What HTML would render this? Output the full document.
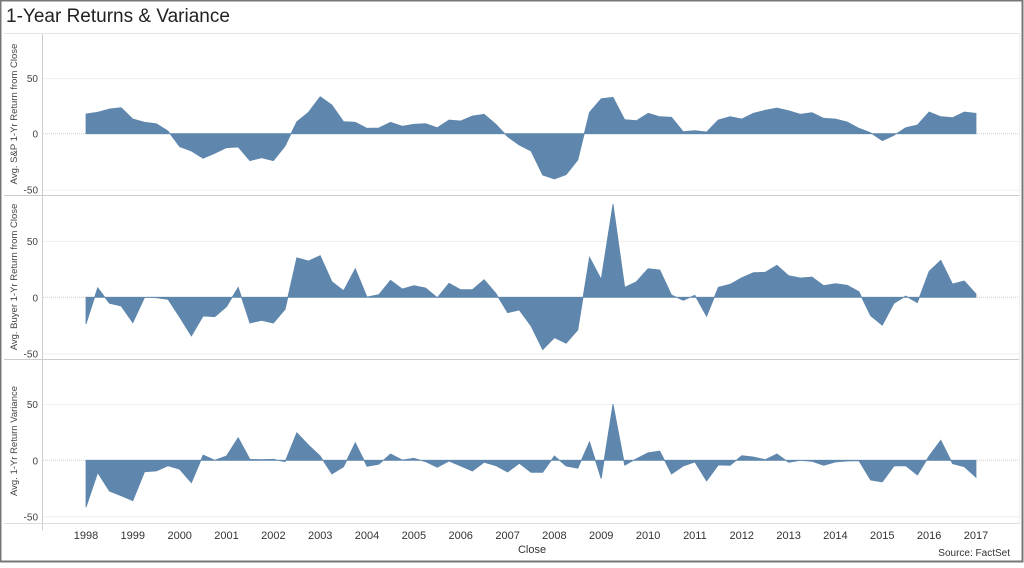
<!DOCTYPE html>
<html><head><meta charset="utf-8"><style>
html,body{margin:0;padding:0;background:#fff;}
body{width:1024px;height:563px;overflow:hidden;font-family:"Liberation Sans",Arial,sans-serif;}
</style></head><body>
<svg id="s" width="1024" height="563" xmlns="http://www.w3.org/2000/svg" font-family="Liberation Sans, Arial, sans-serif">
<rect x="0.5" y="0.5" width="1022" height="561" fill="#fff" stroke="#777" stroke-width="2"/>
<text x="6" y="22" font-size="19" fill="#222">1-Year Returns &amp; Variance</text>
<line x1="4" y1="33.5" x2="1020" y2="33.5" stroke="#e4e4e4"/>
<line x1="42.5" y1="34" x2="42.5" y2="530" stroke="#ccc"/>
<line x1="4" y1="195.5" x2="1020" y2="195.5" stroke="#ccc"/>
<line x1="4" y1="359.5" x2="1020" y2="359.5" stroke="#ccc"/>
<line x1="4" y1="523.5" x2="1020" y2="523.5" stroke="#ddd"/>
<line x1="1019.5" y1="34" x2="1019.5" y2="523" stroke="#eee"/>
<g id="g"></g>
<g font-size="11" fill="#333" text-anchor="middle" id="yr"></g>
<text x="532" y="553" font-size="11" fill="#333" text-anchor="middle">Close</text>
<text x="1010" y="556" font-size="10" fill="#333" text-anchor="end">Source: FactSet</text>
<g font-size="9.5" fill="#444" text-anchor="middle">
<text transform="translate(17,114) rotate(-90)">Avg. S&amp;P 1-Yr Return from Close</text>
<text transform="translate(17,277) rotate(-90)">Avg. Buyer 1-Yr Return from Close</text>
<text transform="translate(17,441) rotate(-90)">Avg. 1-Yr Return Variance</text>
</g>
</svg>
<script>
var p1=[132,127,117,113,147,157,161,183,230,243,265,250,233,231,272,263,272,228,155,127,80,105,155,157,175,174,157,169,163,161,173,150,153,138,133,163,200,
225,243,315,327,314,270,127,86,82,149,152,130,140,142,185,182,186,150,140,147,130,121,114,122,133,128,145,147,156,175,188,212,196,173,165,126,140,143,126,130];
var p2=[372,263,310,318,368,292,293,298,352,408,348,350,320,262,369,361,369,328,173,183,167,245,272,206,291,284,241,267,257,264,293,250,269,269,239,280,338,
330,378,449,413,430,390,172,238,12,262,245,206,210,285,301,286,349,262,253,233,218,217,196,227,234,231,257,251,256,275,347,376,310,288,308,214,181,252,243,282];
var p3=[322,218,273,287,302,215,213,197,208,248,165,181,168,113,178,179,178,185,98,135,168,222,200,128,199,193,162,180,175,185,202,183,198,213,187,197,216,
190,217,217,168,198,205,125,236,12,196,176,158,153,222,198,186,243,195,196,167,171,179,162,187,181,184,196,186,183,182,240,246,198,197,225,168,121,191,200,232];
var ns="http://www.w3.org/2000/svg",g=document.getElementById('g');
function el(t,a){var e=document.createElementNS(ns,t);for(var k in a)e.setAttribute(k,a[k]);return e;}
function panel(arr,y0,zero,z50){
  var d=56;
  [[z50,"50"],[zero,"0"],[zero+d,"-50"]].forEach(function(t){
    if(t[1]!="0")g.appendChild(el('line',{x1:43,x2:1019,y1:t[0]+.5,y2:t[0]+.5,stroke:'#f0f0f0'}));
    var tx=el('text',{x:38,y:t[0]+4,'font-size':10,fill:'#444','text-anchor':'end'});tx.textContent=t[1];g.appendChild(tx);
  });
  g.appendChild(el('line',{x1:43,x2:1019,y1:zero,y2:zero,stroke:'#ccc','stroke-dasharray':'1,1'}));
  var pts="86,"+zero+" ";
  arr.forEach(function(v,i){pts+=(86+i*11.71).toFixed(1)+","+(y0+v/3).toFixed(1)+" ";});
  pts+=(86+76*11.71).toFixed(1)+","+zero;
  g.appendChild(el('polygon',{points:pts,fill:'#5f87ad',stroke:'#5f87ad','stroke-width':0.8}));
}
panel(p1,70,133.7,78);
panel(p2,200,297.3,241);
panel(p3,400,460.3,404);
var yr=document.getElementById('yr');
for(var y=1998;y<=2017;y++){var t=el('text',{x:(86+(y-1998)*46.84).toFixed(1),y:539});t.textContent=y;yr.appendChild(t);}
</script>
</body></html>
